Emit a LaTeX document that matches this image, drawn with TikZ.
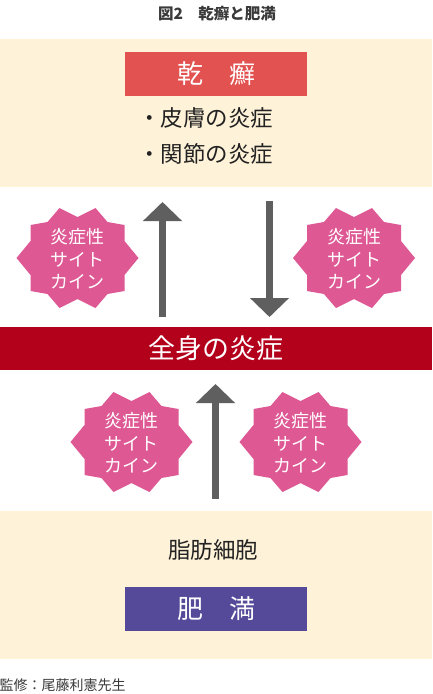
\documentclass[tikz,border=0pt]{standalone}
\usepackage{fontspec}
\setmainfont{Noto Sans CJK JP}
\usetikzlibrary{arrows.meta}
\definecolor{cream}{HTML}{FEF2D8}
\definecolor{psorred}{HTML}{E25250}
\definecolor{sysred}{HTML}{B3001B}
\definecolor{obespurple}{HTML}{554A99}
\definecolor{badgepink}{HTML}{DE5894}
\definecolor{arrowgray}{HTML}{5F5F5F}
\definecolor{txtdark}{HTML}{222222}
\definecolor{titlegray}{HTML}{3A3A3A}
\newcommand\starbadge[3]{%
  \fill[badgepink, shift={(#2,#3)}] (0,-41) -- (18,-50) -- (30,-36) -- (47,-33) -- (47,-17) -- (61,0)
    -- (47,17) -- (47,33) -- (30,36) -- (18,50) -- (0,41) -- (-18,50) -- (-30,36) -- (-47,33)
    -- (-47,17) -- (-61,0) -- (-47,-17) -- (-47,-33) -- (-30,-36) -- (-18,-50) -- cycle;
  \node[badgetext] (#1) at (#2,#3+1) {炎症性\\サイト\\カイン};
}
\begin{document}
\begin{tikzpicture}[x=1pt,y=-1pt,
  band/.style={fill=cream, draw=none},
  labelbox/.style={minimum width=182pt, minimum height=44pt, inner sep=0pt, text=white,
    font=\fontsize{26}{30}\selectfont},
  bodytext/.style={text=txtdark, inner sep=0pt, font=\fontsize{22.5}{26}\selectfont},
  badgetext/.style={text=white, align=center, inner sep=0pt, font=\fontsize{18}{22.5}\selectfont},
  bigarrow/.style={draw=arrowgray, line width=7pt, -{Triangle[width=38pt,length=19pt]}}
  ]
\useasboundingbox (0,0) rectangle (432,694);
\fill[white] (0,0) rectangle (432,694);
% bands
\fill[band] (0,39) rectangle (432,187);
\fill[band] (0,511) rectangle (432,659);
% title
\node[text=titlegray, inner sep=0pt, font=\fontsize{15.5}{18}\selectfont\bfseries] (title) at (217,14) {図2　乾癬と肥満};
% psoriasis
\node[labelbox, fill=psorred] (psor) at (216,74) {乾　癬};
\node[bodytext, anchor=west] (b1) at (138,118) {・皮膚の炎症};
\node[bodytext, anchor=west] (b2) at (138,154) {・関節の炎症};
% systemic inflammation band
\node[fill=sysred, minimum width=432pt, minimum height=43pt, inner sep=0pt, text=white,
  font=\fontsize{27}{31}\selectfont] (sys) at (216,348.5) {全身の炎症};
% obesity
\node[bodytext] (fat) at (213,550) {脂肪細胞};
\node[labelbox, fill=obespurple] (obes) at (216,609) {肥　満};
% footer
\node[text=titlegray, anchor=west, inner sep=0pt, font=\fontsize{14}{16}\selectfont] (foot) at (-0.5,685) {監修：尾藤利憲先生};
% arrows
\coordinate (a1s) at (162.5,317);
\coordinate (a1e) at (162.5,202);
\coordinate (a2s) at (269.5,201);
\coordinate (a2e) at (269.5,317);
\coordinate (a3s) at (215.5,499);
\coordinate (a3e) at (215.5,384);
\draw[bigarrow] (a1s) -- (a1e);
\draw[bigarrow] (a2s) -- (a2e);
\draw[bigarrow] (a3s) -- (a3e);
% badges
\starbadge{c1}{77.5}{258}
\starbadge{c2}{354}{258}
\starbadge{c3}{131.5}{442}
\starbadge{c4}{300.5}{442}
\end{tikzpicture}
\end{document}
